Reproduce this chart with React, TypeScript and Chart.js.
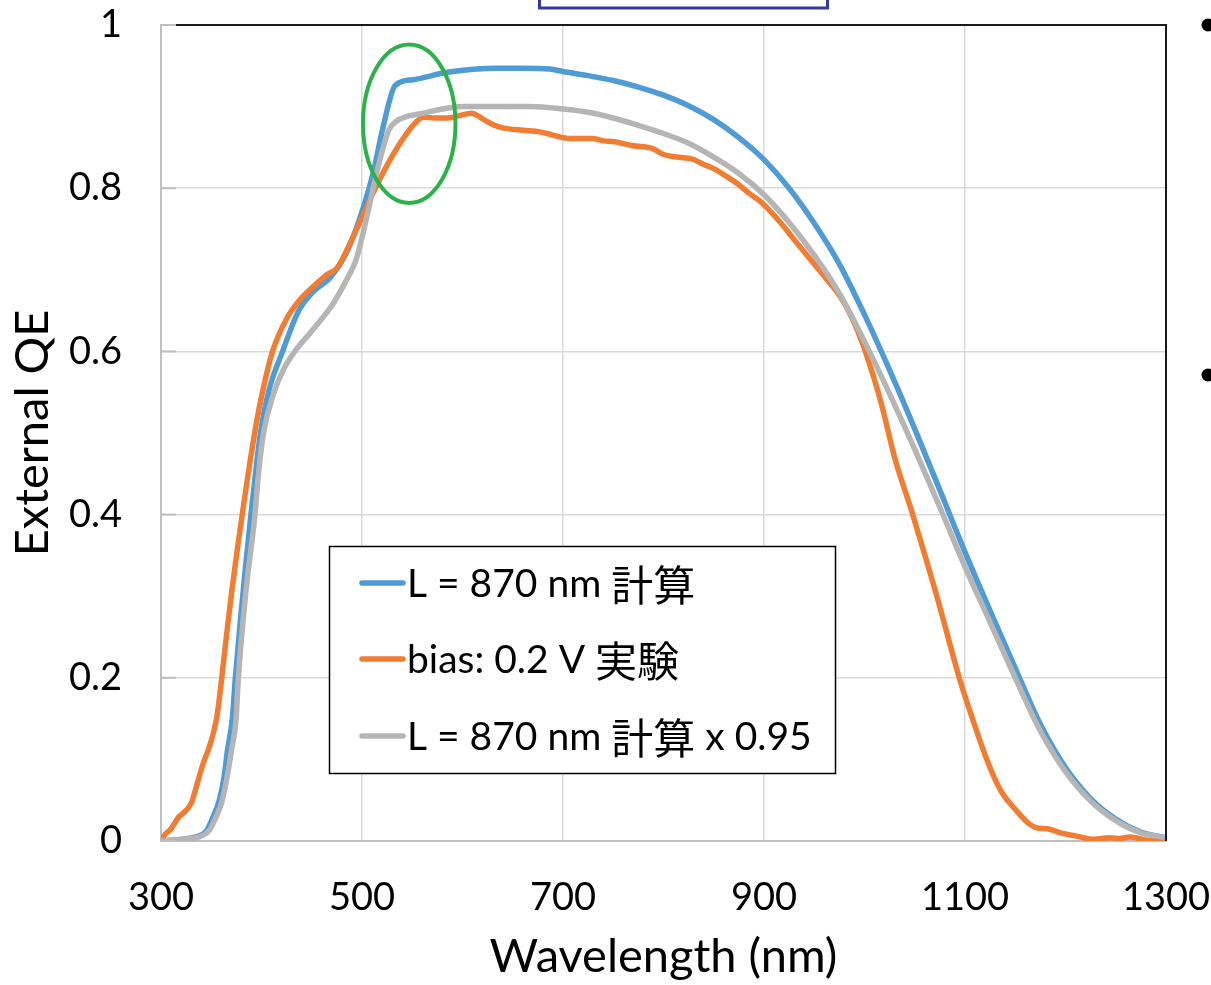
import React, { useEffect, useRef } from "react";
import { Chart, registerables } from "chart.js";

Chart.register(...registerables);

// ---- data ----
const X_MIN = 300;
const X_MAX = 1300;
const X_STEP = 200;
const Y_MIN = 0;
const Y_MAX = 1;
const Y_STEP = 0.2;

const SERIES_LABELS = ["L = 870 nm 計算", "bias: 0.2 V 実験", "L = 870 nm 計算 x 0.95"];
const SERIES_COLORS = ["#4E9BD5", "#F07D32", "#B5B5B5"];

// calculated, L = 870 nm
const CALC_NM = [300, 320, 335, 345, 352, 358, 363, 366, 371, 374, 379, 384, 389.5, 394, 399, 408, 421, 430, 438, 452, 468, 485, 501, 511, 521, 533, 551, 585, 634, 660, 687, 700, 725, 750, 775, 800, 825, 850, 875, 900, 925, 950, 975, 1000, 1025, 1050, 1075, 1100, 1125, 1150, 1175, 1200, 1225, 1250, 1275, 1300];
const CALC_QE = [0, 0.002, 0.005, 0.012, 0.03, 0.05, 0.08, 0.11, 0.15, 0.2, 0.27, 0.335, 0.4, 0.45, 0.5, 0.555, 0.6, 0.63, 0.652, 0.674, 0.69, 0.722, 0.775, 0.818, 0.875, 0.926, 0.933, 0.942, 0.947, 0.947, 0.946, 0.943, 0.938, 0.932, 0.924, 0.914, 0.901, 0.884, 0.862, 0.835, 0.8, 0.757, 0.707, 0.645, 0.577, 0.505, 0.43, 0.354, 0.282, 0.212, 0.143, 0.09, 0.052, 0.027, 0.011, 0.004];

// experiment, bias 0.2 V
const EXP_NM = [300, 302, 310, 318, 322, 330, 336, 342, 348, 352, 356, 360, 365, 370, 376, 382, 388, 395, 402, 411, 425, 438, 452, 465, 475, 491, 511, 528, 545, 553, 561, 573, 585, 597, 609, 620, 630, 640, 660, 677, 690, 707, 729, 740, 751, 770, 788, 801, 815, 828, 840, 850, 862, 873, 885, 899, 917, 930, 944, 960, 976, 988, 998, 1010, 1017, 1030, 1048, 1072, 1095, 1108, 1122, 1135, 1152, 1163, 1172, 1182, 1195, 1211, 1228, 1244, 1254, 1264, 1281, 1300];
const EXP_QE = [0, 0.005, 0.015, 0.03, 0.034, 0.046, 0.07, 0.095, 0.115, 0.132, 0.155, 0.195, 0.25, 0.302, 0.358, 0.41, 0.46, 0.513, 0.556, 0.6, 0.64, 0.663, 0.68, 0.694, 0.702, 0.74, 0.794, 0.835, 0.868, 0.88, 0.887, 0.886, 0.886, 0.889, 0.892, 0.885, 0.878, 0.874, 0.871, 0.869, 0.865, 0.861, 0.861, 0.858, 0.857, 0.852, 0.849, 0.841, 0.838, 0.836, 0.829, 0.824, 0.815, 0.806, 0.794, 0.781, 0.757, 0.737, 0.716, 0.692, 0.667, 0.64, 0.61, 0.565, 0.535, 0.47, 0.4, 0.3, 0.197, 0.148, 0.099, 0.063, 0.036, 0.022, 0.016, 0.015, 0.01, 0.006, 0.002, 0.004, 0.003, 0.005, 0.001, 0];

// calculated x 0.95
const SCALED_NM = [300, 320, 338, 348, 355, 361, 366, 370, 374.6, 377, 384, 393.5, 397, 402, 412, 422, 435, 448, 460, 472, 483, 494, 503, 512, 520, 527, 534, 561, 601, 667, 700, 725, 750, 775, 800, 825, 850, 875, 900, 925, 950, 975, 1000, 1025, 1050, 1075, 1100, 1125, 1150, 1175, 1200, 1225, 1250, 1275, 1300];
const SCALED_QE = [0, 0.002, 0.005, 0.013, 0.03, 0.05, 0.08, 0.11, 0.148, 0.2, 0.3, 0.4, 0.45, 0.5, 0.548, 0.578, 0.603, 0.622, 0.64, 0.66, 0.684, 0.712, 0.755, 0.805, 0.845, 0.872, 0.882, 0.892, 0.9, 0.9, 0.897, 0.893, 0.886, 0.877, 0.867, 0.855, 0.838, 0.818, 0.792, 0.758, 0.718, 0.671, 0.612, 0.548, 0.48, 0.409, 0.336, 0.268, 0.2, 0.135, 0.085, 0.049, 0.025, 0.01, 0.004];

const X_TITLE = "Wavelength (nm)";
const Y_TITLE = "External QE";

const toPoints = (xs: number[], ys: number[]) => xs.map((x, i) => ({ x, y: ys[i] }));

const FONT_FAMILY = 'Lato, "Noto Sans CJK JP", sans-serif';
const CJK_FAMILY = '"Noto Sans CJK JP", sans-serif';

const isCJK = (ch: string) => /[\u3000-\u9fff]/.test(ch);

function drawMixedText(ctx: CanvasRenderingContext2D, text: string, x: number, y: number) {
  // split into runs of latin / CJK text
  const runs: { s: string; cjk: boolean }[] = [];
  for (const ch of text) {
    const c = isCJK(ch);
    const last = runs[runs.length - 1];
    if (last && last.cjk === c) last.s += ch;
    else runs.push({ s: ch, cjk: c });
  }
  let cx = x;
  for (const r of runs) {
    ctx.font = r.cjk ? `42px ${CJK_FAMILY}` : `39px ${FONT_FAMILY}`;
    ctx.fillText(r.s, cx, r.cjk ? y + 1 : y);
    cx += ctx.measureText(r.s).width;
  }
}

const decorPlugin = {
  id: "decor",
  afterDatasetsDraw(chart: any) {
    const { ctx, chartArea } = chart;
    const { left, right, top, bottom } = chartArea;
    const xs = chart.scales.x;
    const ys = chart.scales.y;
    ctx.save();
    // top and right frame lines
    ctx.strokeStyle = "#1a1a1a";
    ctx.lineWidth = 2;
    ctx.beginPath();
    ctx.moveTo(left, top);
    ctx.lineTo(right, top);
    ctx.lineTo(right, bottom);
    ctx.stroke();
    // inward tick marks on y axis
    ctx.strokeStyle = "#BFBFBF";
    ctx.lineWidth = 2;
    for (let v = Y_MIN; v <= Y_MAX + 1e-9; v += Y_STEP) {
      const py = ys.getPixelForValue(v);
      ctx.beginPath();
      ctx.moveTo(left, py);
      ctx.lineTo(left + 15, py);
      ctx.stroke();
    }
    // green ellipse highlight
    const cx = xs.getPixelForValue(547);
    const cy = ys.getPixelForValue(0.879);
    const rx = xs.getPixelForValue(547 + 46) - cx;
    const ry = cy - ys.getPixelForValue(0.879 + 0.097);
    ctx.strokeStyle = "#2DB24A";
    ctx.lineWidth = 4;
    ctx.beginPath();
    ctx.ellipse(cx, cy, rx, ry, 0, 0, Math.PI * 2);
    ctx.stroke();

    // legend box
    const bx = 329.5, by = 546.5, bw = 506, bh = 227;
    ctx.fillStyle = "#ffffff";
    ctx.fillRect(bx, by, bw, bh);
    ctx.strokeStyle = "#000000";
    ctx.lineWidth = 1.5;
    ctx.strokeRect(bx, by, bw, bh);
    const rows = [583, 659, 736];
    ctx.textBaseline = "middle";
    ctx.textAlign = "left";
    chart.data.datasets.forEach((ds: any, i: number) => {
      const ry2 = rows[i];
      ctx.strokeStyle = ds.borderColor;
      ctx.lineWidth = 5.5;
      ctx.lineCap = "round";
      ctx.beginPath();
      ctx.moveTo(362, ry2);
      ctx.lineTo(403, ry2);
      ctx.stroke();
      ctx.fillStyle = "#000000";
      drawMixedText(ctx, ds.label, 407, ry2 + 1);
    });

    // slide decorations outside chart
    ctx.strokeStyle = "#343A9A";
    ctx.lineWidth = 3;
    ctx.lineCap = "butt";
    ctx.strokeRect(539.5, -10, 288, 18);
    ctx.fillStyle = "#000000";
    ctx.beginPath();
    ctx.arc(1208, 25, 6.5, 0, Math.PI * 2);
    ctx.fill();
    ctx.beginPath();
    ctx.arc(1208, 375, 6.5, 0, Math.PI * 2);
    ctx.fill();
    ctx.restore();
  },
};

export default function App() {
  const ref = useRef<HTMLCanvasElement | null>(null);
  useEffect(() => {
    if (!ref.current) return;
    const mk = (i: number, xs: number[], ys: number[], order: number) => ({
      label: SERIES_LABELS[i],
      data: toPoints(xs, ys),
      borderColor: SERIES_COLORS[i],
      backgroundColor: SERIES_COLORS[i],
      borderWidth: 5.5,
      pointRadius: 0,
      cubicInterpolationMode: "monotone",
      borderJoinStyle: "round",
      order,
    });
    const chart = new Chart(ref.current, {
      type: "line",
      data: {
        datasets: [
          mk(0, CALC_NM, CALC_QE, 3),
          mk(1, EXP_NM, EXP_QE, 2),
          mk(2, SCALED_NM, SCALED_QE, 1),
        ] as any,
      },
      options: {
        animation: false,
        responsive: false,
        devicePixelRatio: 1,
        layout: { padding: { left: 0, top: 25, right: 45, bottom: 0 } },
        plugins: { legend: { display: false }, tooltip: { enabled: false } },
        scales: {
          x: {
            type: "linear",
            min: X_MIN,
            max: X_MAX,
            afterFit: (s: any) => {
              s.height = 144;
              s.paddingLeft = 0;
              s.paddingRight = 0;
            },
            ticks: {
              stepSize: X_STEP,
              color: "#000000",
              font: { family: FONT_FAMILY, size: 38 },
              padding: 34,
              maxRotation: 0,
              callback: (v: any) => String(v),
            },
            grid: { color: "#D9D9D9", lineWidth: 1.5, drawTicks: false },
            border: { display: true, color: "#BFBFBF", width: 2 },
            title: {
              display: true,
              text: X_TITLE,
              color: "#000000",
              font: { family: FONT_FAMILY, size: 47 },
              padding: { top: 0, bottom: 0 },
            },
          },
          y: {
            type: "linear",
            min: Y_MIN,
            max: Y_MAX,
            afterFit: (s: any) => {
              s.width = 161;
              s.paddingTop = 0;
              s.paddingBottom = 0;
            },
            ticks: {
              stepSize: Y_STEP,
              color: "#000000",
              font: { family: FONT_FAMILY, size: 38 },
              padding: 39,
              callback: (v: any) => String(Math.round(v * 10) / 10),
            },
            grid: { color: "#D9D9D9", lineWidth: 1.5, drawTicks: false },
            border: { display: true, color: "#BFBFBF", width: 2 },
            title: {
              display: true,
              text: Y_TITLE,
              color: "#000000",
              font: { family: FONT_FAMILY, size: 47 },
              padding: { top: 5, bottom: 0 },
            },
          },
        },
      },
      plugins: [decorPlugin],
    });
    return () => chart.destroy();
  }, []);

  return (
    <div style={{ position: "fixed", left: 0, top: 0, width: 1211, height: 985, background: "#ffffff" }}>
      <canvas ref={ref} width={1211} height={985} style={{ display: "block" }} />
    </div>
  );
}
